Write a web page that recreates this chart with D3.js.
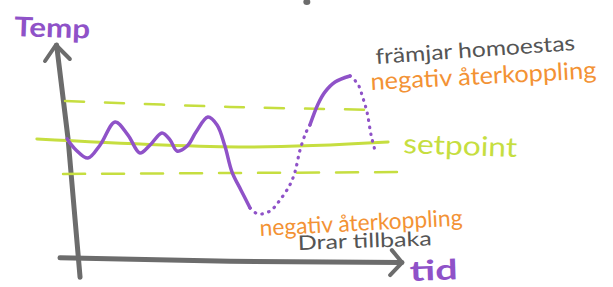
<!DOCTYPE html>
<html>
  <head>
    <meta charset="utf-8">
    <title>Temp - negativ återkoppling</title>
    <script src="https://d3js.org/d3.v7.min.js"></script>
    <style type="text/css">
      body { margin: 0; background: #fff; }
      text { font-family: Lato, "Open Sans", sans-serif; }
    </style>
  </head>
  <body>
    <svg id="chart" width="613" height="287"></svg>
    <script type="text/javascript">

// time (0-100) and temperature (0-100)
var tempT = [2.1, 4.7, 8.2, 11.8, 16.2, 20.0, 23.5, 26.5, 30.0, 32.4, 34.4, 37.4, 40.0, 43.5, 46.2, 48.5, 50.6, 53.2, 55.9];
var tempV = [56.3, 51.2, 47.4, 53.5, 64.2, 58.1, 49.8, 53.5, 59.1, 55.8, 50.7, 53.0, 59.5, 66.5, 62.8, 53.0, 40.9, 32.6, 24.2];

var pullUpT = [55.9, 58.2, 61.8, 64.7, 67.6, 69.1, 70.6, 72.4, 73.5];
var pullUpV = [24.2, 21.4, 22.8, 27.9, 34.9, 40.9, 51.2, 59.5, 62.8];

var riseT = [73.5, 75.9, 77.9, 80.9, 85.3];
var riseV = [62.8, 72.6, 78.1, 82.8, 85.6];

var pullDownT = [85.3, 87.6, 89.1, 90.3, 91.5, 92.6];
var pullDownV = [85.6, 81.9, 75.3, 68.8, 58.1, 51.2];

// setpoint and the upper / lower limits
var setpointT = [-6.8, 55.0, 96.5];
var setpointV = [56.3, 52.6, 54.9];
var upperT = [1.5, 50.0, 94.1];
var upperV = [74.0, 71.2, 69.8];
var lowerT = [0.9, 99.1];
var lowerV = [40.0, 40.9];

var svg = d3.select("#chart");

var x = d3.scaleLinear().domain([0, 100]).range([60, 400]);
var y = d3.scaleLinear().domain([0, 100]).range([260, 45]);

var purple = "#8f52c8",
    green = "#c6de40",
    orange = "#f39234",
    gray = "#6c6c6c",
    ink = "#555555";

function pts(ts, vs) {
  return ts.map(function(t, i) { return [t, vs[i]]; });
}

var smooth = d3.line()
  .x(function(d) { return x(d[0]); })
  .y(function(d) { return y(d[1]); })
  .curve(d3.curveCatmullRom.alpha(0.5));

// axes (hand drawn, a bit tilted)
var axes = svg.append("g")
  .attr("fill", "none")
  .attr("stroke", gray)
  .attr("stroke-linecap", "round")
  .attr("stroke-linejoin", "round");

axes.append("path")
  .attr("stroke-width", 5)
  .attr("d", d3.line()([[x(-1.0), y(100)], [x(2.4), y(56)], [x(5.9), y(-8)]]));
axes.append("path")
  .attr("stroke-width", 4)
  .attr("d", d3.line()([[x(-4.4), y(100) + 16], [x(-1.2), y(100)], [x(2.9), y(100) + 14]]));

axes.append("path")
  .attr("stroke-width", 5)
  .attr("d", d3.line()([[x(0), y(1)], [x(50), y(-0.6)], [x(100.6), y(-1.2)]]));
axes.append("path")
  .attr("stroke-width", 4)
  .attr("d", d3.line()([[x(97.6), y(4.6)], [x(100.6), y(-1.2)], [x(97.1), y(-7)]]));

// stray pen mark at the top
svg.append("ellipse")
  .attr("cx", x(72.6)).attr("cy", 2)
  .attr("rx", 3.5).attr("ry", 3)
  .attr("fill", gray);

// green limits
svg.append("path")
  .attr("d", smooth(pts(upperT, upperV)))
  .attr("fill", "none").attr("stroke", green)
  .attr("stroke-width", 2.5).attr("stroke-dasharray", "19,21")
  .attr("stroke-linecap", "round");
svg.append("path")
  .attr("d", smooth(pts(lowerT, lowerV)))
  .attr("fill", "none").attr("stroke", green)
  .attr("stroke-width", 2.5).attr("stroke-dasharray", "22,17")
  .attr("stroke-linecap", "round");
svg.append("path")
  .attr("d", smooth(pts(setpointT, setpointV)))
  .attr("fill", "none").attr("stroke", green)
  .attr("stroke-width", 3)
  .attr("stroke-linecap", "round");

// purple temperature curve
function curve(ts, vs, dotted) {
  var p = svg.append("path")
    .attr("d", smooth(pts(ts, vs)))
    .attr("fill", "none")
    .attr("stroke", purple)
    .attr("stroke-width", dotted ? 3.2 : 3.5)
    .attr("stroke-linecap", "round")
    .attr("stroke-linejoin", "round");
  if (dotted) p.attr("stroke-dasharray", "0.5,6.5");
}
curve(tempT, tempV, false);
curve(pullUpT, pullUpV, true);
curve(riseT, riseV, false);
curve(pullDownT, pullDownV, true);

// labels
function label(txt, px, py, size, color, len, rot, weight) {
  svg.append("text")
    .attr("x", px).attr("y", py)
    .attr("font-size", size)
    .attr("font-weight", weight || "normal")
    .attr("fill", color)
    .attr("textLength", len)
    .attr("lengthAdjust", "spacingAndGlyphs")
    .attr("transform", "rotate(" + rot + "," + px + "," + py + ")")
    .text(txt);
}

label("Temp", 14, 36, 27, purple, 76, 2, "bold");
label("tid", 410, 281, 28, purple, 48, -2, "bold");
label("setpoint", 403, 153, 27, green, 114, 2, "normal");
label("främjar homoestas", 376, 64, 21, ink, 200, -4, "normal");
label("negativ återkoppling", 371, 90, 24, orange, 226, -3, "normal");
label("negativ återkoppling", 260, 236, 23, orange, 203, -3, "normal");
label("Drar tillbaka", 298, 250, 20, ink, 134, -2, "normal");

    </script>
  </body>
</html>
